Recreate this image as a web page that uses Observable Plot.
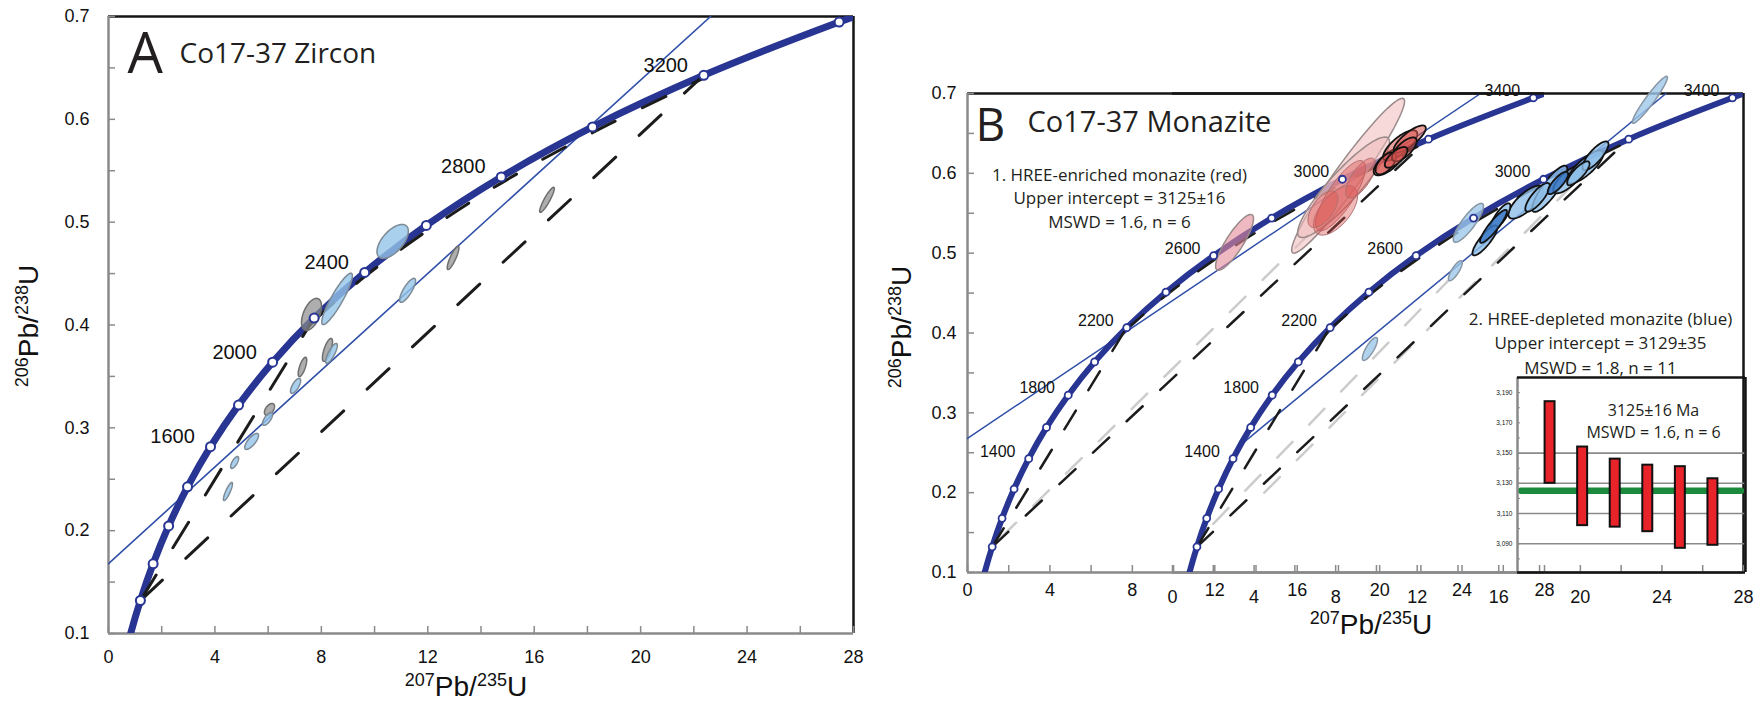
<!DOCTYPE html>
<html><head><meta charset="utf-8">
<script src="https://cdn.jsdelivr.net/npm/d3@7"></script>
<script src="https://cdn.jsdelivr.net/npm/@observablehq/plot@0.6"></script>
<style>
body{margin:0;background:#fff;}
#wrap{position:relative;width:1764px;height:702px;overflow:hidden;background:#fff;}
.lab{position:absolute;font-family:"Liberation Sans",Arial,sans-serif;font-size:28px;line-height:28px;height:28px;white-space:nowrap;color:#111;}
.lab span{font-size:18px;vertical-align:10px;line-height:0;}
</style></head><body><div id="wrap"></div>
<script>
const W = 1764, H = 702;
// ---- concordia (age Ma, 207Pb/235U, 206Pb/238U)
const concAge = [400,600,800,1000,1200,1400,1600,1800,2000,2200,2400,2600,2800,3000,3200,3400,3450];
const concX = [0.4828,0.8056,1.1987,1.6774,2.2603,2.9701,3.8344,4.8869,6.1685,7.7292,9.6295,11.944,14.762,18.193,22.372,27.460,28.896];
const concY = [0.0640,0.0975,0.1321,0.1678,0.2046,0.2426,0.2817,0.3221,0.3638,0.4067,0.4511,0.4968,0.5440,0.5926,0.6428,0.6946,0.7078];
const markerAges = [800,1000,1200,1400,1600,1800,2000,2200,2400,2600,2800,3000,3200,3400];
const labelAgesA = [1600,2000,2400,2800,3200];
const labelAgesB = [1400,1800,2200,2600,3000,3400];
// ---- ticks
const xTicks = [0,4,8,12,16,20,24,28];
const xMinor = [0,2,4,6,8,10,12,14,16,18,20,22,24,26,28];
const yTicks = [0.1,0.2,0.3,0.4,0.5,0.6,0.7];
const yMinor = [0.1,0.15,0.2,0.25,0.3,0.35,0.4,0.45,0.5,0.55,0.6,0.65,0.7];
// ---- reference lines [x, y]
const discordiaA = [[0,0.168],[22.63,0.70]];
const discordiaB1 = [[0,0.268],[24.9,0.70]];
const discordiaB2 = [[3.45,0.262],[24.2,0.70]];
const chordLow = [[1.20,0.132],[22.37,0.643]];
const chordUp = [[1.20,0.132],[7.73,0.407]];
const nearConc = [[7.73,0.405],[9.63,0.447],[11.94,0.491],[14.76,0.538],[18.19,0.587],[22.37,0.640]];
const grayB1 = [[1.6,0.143],[16.5,0.522]];
const grayB2a = [[2.0,0.161],[13.5,0.465]];
const grayB2b = [[4.5,0.200],[20.0,0.595]];
// ---- ellipses [x, y, sx, sy, rho]
const zirconBlue = [[10.68,0.4813,0.59,0.0165,0.6],[8.59,0.4254,0.575,0.025,0.9],[11.24,0.4337,0.30,0.0117,0.8],[8.38,0.3724,0.22,0.0097,0.8],[7.03,0.3408,0.19,0.0073,0.7],[5.98,0.3087,0.19,0.0063,0.7],[5.38,0.2868,0.26,0.0078,0.75],[4.74,0.2663,0.15,0.0058,0.7],[4.49,0.2381,0.17,0.0088,0.85]];
const zirconGray = [[7.63,0.4103,0.376,0.0156,0.5],[12.95,0.4653,0.22,0.0114,0.85],[8.23,0.3758,0.19,0.0112,0.7],[7.29,0.3592,0.16,0.0094,0.7],[6.05,0.3179,0.19,0.0058,0.5],[16.48,0.5217,0.275,0.0122,0.9]];
const redPale = [[18.47,0.597,2.74,0.097,0.96],[18.25,0.5825,2.23,0.063,0.9]];
const redPink = [[12.96,0.5135,0.92,0.035,0.85]];
const redMid = [[18.1,0.572,1.21,0.044,0.8],[17.86,0.5536,1.07,0.031,0.6],[19.08,0.594,0.73,0.025,0.7],[17.25,0.555,0.73,0.023,0.6]];
const redFit = [[20.44,0.6144,0.73,0.017,0.7],[21.0,0.635,0.83,0.019,0.75],[21.46,0.643,0.78,0.017,0.8],[20.3,0.6125,0.5,0.0138,0.6],[21.2,0.630,0.6,0.015,0.7],[20.8,0.620,0.55,0.013,0.7]];
const bluePale = [[23.41,0.6921,0.86,0.0294,0.95],[14.51,0.538,0.74,0.0244,0.85],[13.87,0.478,0.34,0.0125,0.8],[9.68,0.38,0.37,0.0144,0.8]];
const blueFit = [[17.33,0.564,0.86,0.0207,0.75],[18.5,0.5806,0.86,0.029,0.85],[19.41,0.5925,0.74,0.0175,0.75],[20.25,0.608,0.88,0.0207,0.8],[20.74,0.622,0.64,0.018,0.8],[16.08,0.5455,0.49,0.017,0.8],[15.32,0.516,0.61,0.0188,0.85],[17.9,0.57,0.6,0.018,0.8],[19.9,0.60,0.55,0.015,0.8]];
const blueDark = [[15.74,0.5336,0.66,0.0207,0.9],[18.9,0.588,0.5,0.014,0.8]];
// ---- inset (weighted mean plot)
const insetIdx = [1,2,3,4,5,6];
const insetLo = [3130,3102,3101,3098,3087,3089];
const insetHi = [3184,3154,3146,3142,3141,3133];
const insetMean = [3125];
const insetTicks = [3090,3110,3130,3150,3170,3190];
const insetMinor = [3080,3090,3100,3110,3120,3130,3140,3150,3160,3170,3180,3190];
const insetGrid = [3090,3110,3130,3150];

const NAVY = "#283593", THIN = "#2f4fa8", BLACK = "#151515", GRAY = "#8a8a8a", DASH = "#1c1c1c", LGRAY = "#cccccc";
const svgStyle = "position:absolute;left:0;top:0;background:transparent;overflow:visible;font-family:'Liberation Sans',Arial,sans-serif;font-size:18px;color:#111;";
const SANS = "'Open Sans', sans-serif";

const concordia = concAge.map((age, i) => ({age, x: concX[i], y: concY[i]}));
const markers = concordia.filter(d => markerAges.includes(d.age));

function ellipsePts(list, tag) {
  const pts = [];
  list.forEach((e, k) => {
    const [cx, cy, sx, sy, rho] = e;
    const s = Math.sqrt(1 - rho * rho);
    for (let j = 0; j < 72; j++) {
      const t = 2 * Math.PI * j / 72;
      pts.push({id: tag + k, x: cx + sx * Math.cos(t), y: cy + sy * (rho * Math.cos(t) + s * Math.sin(t))});
    }
  });
  return pts;
}
const ell = (list, tag, o) => Plot.line(ellipsePts(list, tag), {x: "x", y: "y", z: "id", curve: "linear-closed", ...o});
const seg = (arr, o) => Plot.line(arr, {x: d => d[0], y: d => d[1], clip: true, ...o});

function axes(xPad, yAxis) {
  const m = [
    Plot.axisX({ticks: xMinor, tickSize: -7, tickFormat: () => "", stroke: GRAY, strokeWidth: 1.5, label: null}),
    Plot.axisX({ticks: xTicks, tickSize: 0, tickPadding: xPad, fontSize: 18, label: null})
  ];
  if (yAxis) m.push(
    Plot.axisY({ticks: yMinor, tickSize: -7, tickFormat: () => "", stroke: GRAY, strokeWidth: 1.5, label: null}),
    Plot.axisY({ticks: yTicks, tickSize: 0, tickPadding: yAxis, tickFormat: d3.format(".1f"), fontSize: 18, label: null})
  );
  return m;
}

// ---------------- Panel A
const plotA = Plot.plot({
  width: W, height: H, marginLeft: 108, marginRight: 911, marginTop: 16, marginBottom: 69,
  style: svgStyle,
  x: {domain: [0, 28], label: null}, y: {domain: [0.1, 0.7], label: null},
  marks: [
    Plot.ruleY([0.7], {stroke: BLACK, strokeWidth: 2.5}),
    Plot.ruleX([28], {stroke: BLACK, strokeWidth: 2.5}),
    Plot.ruleX([0], {stroke: GRAY, strokeWidth: 2.5}),
    Plot.ruleY([0.1], {stroke: GRAY, strokeWidth: 2.5}),
    ...axes(17, 19),
    seg(discordiaA, {stroke: THIN, strokeWidth: 1.6}),
    Plot.line(concordia, {x: "x", y: "y", curve: "catmull-rom", stroke: NAVY, strokeWidth: 7, clip: true}),
    seg(chordLow, {stroke: DASH, strokeWidth: 3, strokeDasharray: "30,32"}),
    seg(chordUp, {stroke: DASH, strokeWidth: 3, strokeDasharray: "30,32"}),
    seg(nearConc, {stroke: DASH, strokeWidth: 3, strokeDasharray: "26,30", curve: "catmull-rom"}),
    ell(zirconGray, "g", {fill: "#8c8c8c", fillOpacity: 0.7, stroke: "#6e6e6e", strokeWidth: 1.5}),
    ell(zirconBlue, "b", {fill: "#93c4e8", fillOpacity: 0.8, stroke: "#7d8a96", strokeWidth: 1.5}),
    Plot.dot(markers, {x: "x", y: "y", r: 4.5, fill: "white", stroke: NAVY, strokeWidth: 2}),
    Plot.text(markers.filter(d => labelAgesA.includes(d.age)), {x: "x", y: "y", text: d => String(d.age), dx: -38, dy: -10, fontSize: 20, fill: "#111"}),
    Plot.text(["A"], {frameAnchor: "top-left", text: d => d, dx: 19, dy: 56, lineAnchor: "bottom", textAnchor: "start", fontSize: 56, fontFamily: SANS, fill: "#231f20"}),
    Plot.text(["Co17-37 Zircon"], {frameAnchor: "top-left", text: d => d, dx: 71, dy: 46, lineAnchor: "bottom", textAnchor: "start", fontSize: 28, fontFamily: SANS, fill: "#231f20"})
  ]
});

// ---------------- Panel B, left concordia (red monazite)
const plotB1 = Plot.plot({
  width: W, height: H, marginLeft: 967, marginRight: 220, marginTop: 93, marginBottom: 130,
  style: svgStyle,
  x: {domain: [0, 28], label: null}, y: {domain: [0.1, 0.7], label: null},
  marks: [
    Plot.ruleY([0.7], {stroke: BLACK, strokeWidth: 2.5}),
    Plot.ruleX([0], {stroke: GRAY, strokeWidth: 2.5}),
    Plot.ruleY([0.1], {stroke: GRAY, strokeWidth: 2.5}),
    ...axes(11, 11),
    seg(discordiaB1, {stroke: THIN, strokeWidth: 1.5}),
    seg(grayB1, {stroke: LGRAY, strokeWidth: 2.5, strokeDasharray: "22,24"}),
    Plot.line(concordia, {x: "x", y: "y", curve: "catmull-rom", stroke: NAVY, strokeWidth: 6, clip: true}),
    seg(chordLow, {stroke: DASH, strokeWidth: 2.5, strokeDasharray: "22,24"}),
    seg(chordUp, {stroke: DASH, strokeWidth: 2.5, strokeDasharray: "22,24"}),
    seg(nearConc, {stroke: DASH, strokeWidth: 2.5, strokeDasharray: "22,24", curve: "catmull-rom"}),
    ell(redPale, "p", {fill: "#f0b9b9", fillOpacity: 0.55, stroke: "#9a8a8a", strokeWidth: 1.5}),
    ell(redPink, "k", {fill: "#e48a98", fillOpacity: 0.6, stroke: "#9a8a8a", strokeWidth: 1.5}),
    ell(redMid, "m", {fill: "#d9534f", fillOpacity: 0.4, stroke: "#b07070", strokeWidth: 1}),
    ell(redFit, "f", {fill: "#d9534f", fillOpacity: 0.55, stroke: "#111", strokeWidth: 1.8}),
    Plot.dot(markers, {x: "x", y: "y", r: 3.5, fill: "white", stroke: NAVY, strokeWidth: 1.8}),
    Plot.text(markers.filter(d => labelAgesB.includes(d.age)), {x: "x", y: "y", text: d => String(d.age), dx: -31, dy: -7, fontSize: 16, fill: "#111"}),
    Plot.text(["B"], {frameAnchor: "top-left", text: d => d, dx: 8, dy: 47, lineAnchor: "bottom", textAnchor: "start", fontSize: 46, fontFamily: SANS, fill: "#231f20"}),
    Plot.text(["Co17-37 Monazite"], {frameAnchor: "top-left", text: d => d, dx: 60, dy: 38, lineAnchor: "bottom", textAnchor: "start", fontSize: 29, fontFamily: SANS, fill: "#231f20"}),
    Plot.text(["1. HREE-enriched monazite (red)\nUpper intercept = 3125±16\nMSWD = 1.6, n = 6"], {frameAnchor: "top-left", text: d => d, dx: 152, dy: 70, lineAnchor: "top", textAnchor: "middle", fontSize: 17, lineHeight: 1.41, fontFamily: SANS, fill: "#231f20"})
  ]
});

// ---------------- Panel B, right concordia (blue monazite)
const plotB2 = Plot.plot({
  width: W, height: H, marginLeft: 1172, marginRight: 21, marginTop: 93, marginBottom: 130,
  style: svgStyle,
  x: {domain: [0, 28], label: null}, y: {domain: [0.1, 0.7], label: null, axis: null},
  marks: [
    Plot.ruleY([0.7], {stroke: BLACK, strokeWidth: 2.5}),
    Plot.ruleX([28], {stroke: BLACK, strokeWidth: 2.5}),
    Plot.ruleY([0.1], {stroke: GRAY, strokeWidth: 2.5}),
    ...axes(18, 0),
    seg(discordiaB2, {stroke: THIN, strokeWidth: 1.5}),
    seg(grayB2a, {stroke: LGRAY, strokeWidth: 2.5, strokeDasharray: "22,24"}),
    seg(grayB2b, {stroke: LGRAY, strokeWidth: 2.5, strokeDasharray: "22,24"}),
    Plot.line(concordia, {x: "x", y: "y", curve: "catmull-rom", stroke: NAVY, strokeWidth: 6, clip: true}),
    seg(chordLow, {stroke: DASH, strokeWidth: 2.5, strokeDasharray: "22,24"}),
    seg(chordUp, {stroke: DASH, strokeWidth: 2.5, strokeDasharray: "22,24"}),
    seg(nearConc, {stroke: DASH, strokeWidth: 2.5, strokeDasharray: "22,24", curve: "catmull-rom"}),
    ell(bluePale, "p", {fill: "#9ec8ea", fillOpacity: 0.8, stroke: "#8896a4", strokeWidth: 1.5}),
    ell(blueFit, "f", {fill: "#8fbfe8", fillOpacity: 0.8, stroke: "#111", strokeWidth: 1.8}),
    ell(blueDark, "d", {fill: "#3b78c4", fillOpacity: 0.85, stroke: "#111", strokeWidth: 1.8}),
    Plot.dot(markers, {x: "x", y: "y", r: 3.5, fill: "white", stroke: NAVY, strokeWidth: 1.8}),
    Plot.text(markers.filter(d => labelAgesB.includes(d.age)), {x: "x", y: "y", text: d => String(d.age), dx: -31, dy: -7, fontSize: 16, fill: "#111"}),
    Plot.text(["2. HREE-depleted monazite (blue)\nUpper intercept = 3129±35\nMSWD = 1.8, n = 11"], {frameAnchor: "top-left", text: d => d, dx: 428, dy: 214, lineAnchor: "top", textAnchor: "middle", fontSize: 17, lineHeight: 1.44, fontFamily: SANS, fill: "#231f20"})
  ]
});

// ---------------- Inset
const bars = insetIdx.map((i, k) => ({i, lo: insetLo[k], hi: insetHi[k]}));
const plotInset = Plot.plot({
  width: W, height: H, marginLeft: 1517, marginRight: 19, marginTop: 377, marginBottom: 130,
  style: svgStyle,
  x: {domain: [0, 7], label: null, axis: null}, y: {domain: [3071, 3200], label: null},
  marks: [
    Plot.ruleY(insetGrid, {stroke: GRAY, strokeWidth: 1.6}),
    Plot.ruleY(insetMean, {stroke: "#1b8a3c", strokeWidth: 6.5, strokeLinecap: "round", insetLeft: 4, insetRight: 4}),
    Plot.rect(bars, {x1: d => d.i - 0.5, x2: d => d.i + 0.5, y1: "lo", y2: "hi", insetLeft: 11.3, insetRight: 11.3, fill: "#e8232a", stroke: "#111", strokeWidth: 2}),
    Plot.ruleX([0], {stroke: GRAY, strokeWidth: 2.5}),
    Plot.ruleX([7], {stroke: BLACK, strokeWidth: 2.5}),
    Plot.ruleY([3200], {stroke: BLACK, strokeWidth: 2.5}),
    Plot.ruleY([3071], {stroke: BLACK, strokeWidth: 2.5}),
    Plot.axisY({ticks: insetMinor, tickSize: -3, tickFormat: () => "", stroke: GRAY, label: null}),
    Plot.axisY({ticks: insetTicks, tickSize: 0, tickPadding: 5, fontSize: 6.5, label: null}),
    Plot.text(["3125±16 Ma\nMSWD = 1.6, n = 6"], {frameAnchor: "top-left", text: d => d, dx: 136, dy: 22.6, lineAnchor: "top", textAnchor: "middle", fontSize: 16, lineHeight: 1.375, fontFamily: SANS, fill: "#231f20"})
  ]
});

const wrap = document.getElementById("wrap");
[plotA, plotB1, plotB2, plotInset].forEach(p => wrap.appendChild(p));

// axis titles with superscripts
const labs = [
  {html: '<span>206</span>Pb/<span>238</span>U', x: 29, y: 326, rot: true},
  {html: '<span>207</span>Pb/<span>235</span>U', x: 466, y: 673, rot: false},
  {html: '<span>206</span>Pb/<span>238</span>U', x: 902, y: 327, rot: true},
  {html: '<span>207</span>Pb/<span>235</span>U', x: 1371, y: 611, rot: false}
];
labs.forEach(l => {
  const d = document.createElement("div");
  d.className = "lab";
  d.innerHTML = l.html;
  d.style.left = l.x + "px";
  d.style.top = l.y + "px";
  d.style.transform = l.rot ? "translate(-50%,-50%) rotate(-90deg)" : "translateX(-50%)";
  wrap.appendChild(d);
});
</script></body></html>
